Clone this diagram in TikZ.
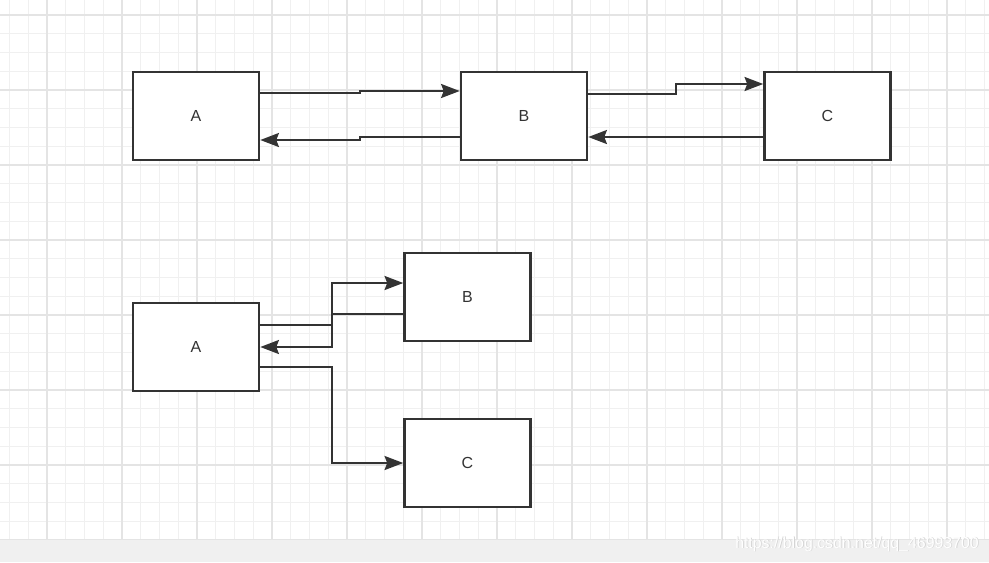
\documentclass[tikz,border=0pt]{standalone}
\usepackage{fontspec}
\setmainfont{Liberation Sans}
\usetikzlibrary{arrows.meta,calc}
\definecolor{minorgrid}{HTML}{F0F0F0}
\definecolor{majorgrid}{HTML}{E4E4E4}
\definecolor{ink}{HTML}{333333}
\definecolor{strip}{HTML}{F0F0F0}
\definecolor{wmshadow}{HTML}{D4D4D4}
\tikzset{
  box/.style={draw=ink, line width=1.9pt, fill=white, minimum width=94.5pt, minimum height=66pt, inner sep=0pt, text=ink, font=\fontsize{12}{14}\selectfont},
  arr/.style={draw=ink, line width=1.6pt, -{Stealth[length=14pt,width=10.5pt,inset=2pt]}},
  wm/.style={anchor=east, font=\fontsize{11.9}{14}\selectfont, inner sep=0pt},
}
\begin{document}
\begin{tikzpicture}[x=0.75pt,y=-0.75pt]
\useasboundingbox (0,0) rectangle (989,562);
\fill[white] (0,0) rectangle (989,562);
% grid
\foreach \i in {0,...,52} {
  \pgfmathsetmacro{\xx}{9.5+18.75*\i}
  \draw[minorgrid, line width=0.9pt] (\xx,0) -- (\xx,540);
}
\foreach \i in {0,...,29} {
  \pgfmathsetmacro{\yy}{-3.75+18.75*\i}
  \draw[minorgrid, line width=0.9pt] (0,\yy) -- (989,\yy);
}
\foreach \i in {0,...,13} {
  \pgfmathsetmacro{\xx}{-28+75*\i}
  \draw[majorgrid, line width=1pt] (\xx,0) -- (\xx,540);
}
\foreach \i in {0,...,7} {
  \pgfmathsetmacro{\yy}{15+75*\i}
  \draw[majorgrid, line width=1pt] (0,\yy) -- (989,\yy);
}
\fill[strip] (0,540) rectangle (989,562);
\node[wm, text=wmshadow] (wmsh) at (979.8,544.8) {https://blog.csdn.net/qq\_46993700};
\node[wm, text=white] (wmtext) at (979,544) {https://blog.csdn.net/qq\_46993700};

% top row
\node[box] (A) at (196,116) {A};
\node[box] (B) at (524,116) {B};
\node[box] (C) at (827.5,116) {C};
% bottom
\node[box] (A2) at (196,347) {A};
\node[box] (B2) at (467.5,297) {B};
\node[box] (C2) at (467.5,463) {C};

\draw[arr] ($(A.east)+(0,-23)$) -- (360,93) -- (360,91) -- ($(B.west)+(0,-25)$);
\draw[arr] ($(B.west)+(0,21)$) -- (360,137) -- (360,140) -- ($(A.east)+(0,24)$);
\draw[arr] ($(B.east)+(0,-22)$) -- (676,94) -- (676,84) -- ($(C.west)+(0,-32)$);
\draw[arr] ($(C.west)+(0,21)$) -- ($(B.east)+(0,21)$);

\draw[arr] ($(A2.east)+(0,-22)$) -- (332,325) -- (332,283) -- ($(B2.west)+(0,-14)$);
\draw[arr] ($(B2.west)+(0,17)$) -- (332,314) -- (332,347) -- (A2.east);
\draw[arr] ($(A2.east)+(0,20)$) -- (332,367) -- (332,463) -- (C2.west);
\end{tikzpicture}
\end{document}
